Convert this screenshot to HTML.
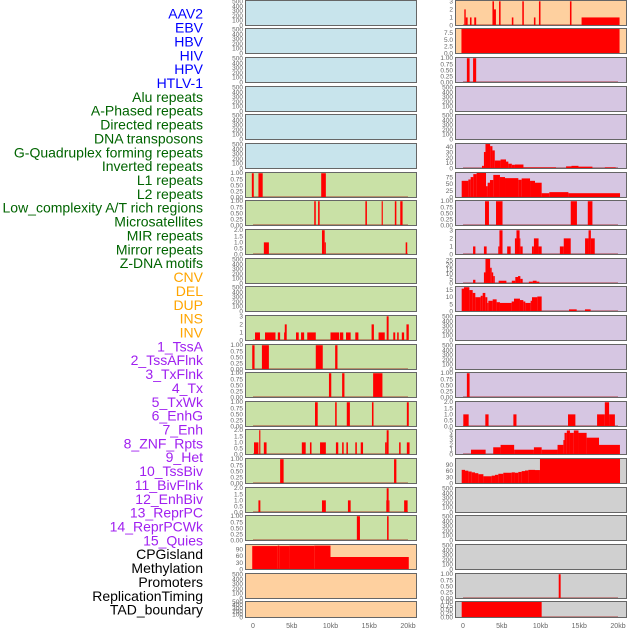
<!DOCTYPE html>
<html><head><meta charset="utf-8">
<style>
html,body{margin:0;padding:0;background:#fff;}
svg{display:block;font-family:"Liberation Sans",sans-serif;}
</style></head>
<body>
<svg id="chart" width="630" height="630" viewBox="0 0 630 630"></svg>
<script>
const labels = ["AAV2","EBV","HBV","HIV","HPV","HTLV-1","Alu repeats","A-Phased repeats","Directed repeats","DNA transposons","G-Quadruplex forming repeats","Inverted repeats","L1 repeats","L2 repeats","Low_complexity A/T rich regions","Microsatellites","MIR repeats","Mirror repeats","Z-DNA motifs","CNV","DEL","DUP","INS","INV","1_TssA","2_TssAFlnk","3_TxFlnk","4_Tx","5_TxWk","6_EnhG","7_Enh","8_ZNF_Rpts","9_Het","10_TssBiv","11_BivFlnk","12_EnhBiv","13_ReprPC","14_ReprPCWk","15_Quies","CPGisland","Methylation","Promoters","ReplicationTiming","TAD_boundary"];
const labelGroups = ["v","v","v","v","v","v","r","r","r","r","r","r","r","r","r","r","r","r","r","s","s","s","s","s","c","c","c","c","c","c","c","c","c","c","c","c","c","c","c","o","o","o","o","o"];
const xTickLabels = ["0","5kb","10kb","15kb","20kb"];
const xTickValues = [0,5,10,15,20];

const leftFill = ["b","b","b","b","b","b","g","g","g","g","g","g","g","g","g","g","g","g","g","p","p","p"];
const rightFill = ["p","p","u","u","u","u","u","u","u","u","u","u","u","u","u","u","k","k","k","k","k","k"];
const leftYMax = [520,520,520,520,520,520,1.03,1.03,2.06,520,520,3.1,1.03,1.03,1.03,2.06,1.03,2.06,1.03,112,520,520];
const rightYMax = [3.1,9.1,1.03,520,520,47,93,1.03,3.1,27,17.5,520,520,1.03,2.06,5.2,121,520,520,520,1.03,1.03];
const leftTicks = ["e","e","e","e","e","e","q","q","h","e","e","i3","q","q","q","h","q","h","q","t90","e","e"];
const rightTicks = ["i3","f75","q","e","e","t40","t75","q","i3","t25","t15","e","e","q","h","i5","t90","e","e","e","q","q"];

const leftBars = [
 [],[],[],[],[],[],
 [[-0.15,0.1,1],[0.7,1.25,1],[8.8,9.4,1]],
 [[7.9,8.1,1],[8.4,8.6,1],[14.5,14.7,1],[16.6,16.75,1],[18.3,18.5,1],[19.0,19.3,1]],
 [[1.4,2.05,1],[8.9,9.25,2],[9.25,9.4,1],[19.7,19.9,1]],
 [],[],
 [[0.26,0.9,1],[1.55,2.9,1],[3.2,3.5,1],[4.0,4.1,1],[4.1,4.35,2],[5.55,5.9,1],[6.2,6.6,1],[7.0,8.1,1],[10.0,11.1,1],[11.2,11.65,1],[12.0,12.6,1],[13.2,13.6,1],[15.3,15.6,2],[16.2,17.0,1],[17.25,17.5,3],[18.1,18.35,1],[18.6,18.8,1],[19.2,19.5,1],[19.8,20.1,2]],
 [[-0.1,0.2,1],[1.15,2.05,1],[8.1,9.0,1],[10.6,10.9,1]],
 [[9.8,10.1,1],[11.5,11.8,1],[15.5,16.7,1]],
 [[8.0,8.35,1],[10.6,10.8,1],[12.1,12.5,1],[15.35,15.55,1],[19.85,20.1,1]],
 [[0.13,0.7,1],[0.8,0.95,2],[1.4,1.75,1],[6.3,6.8,1],[7.35,7.55,1],[8.65,9.4,1],[10.7,11.0,1],[11.5,11.7,1],[12.05,12.25,1],[13.2,13.4,1],[13.9,14.2,1],[17.05,17.25,1],[17.25,17.5,2],[18.85,19.05,1],[19.85,20.2,1]],
 [[3.5,3.95,1],[18.2,18.5,1]],
 [[0.7,0.95,1],[8.9,9.4,1],[12.25,12.6,1],[17.2,17.25,1],[17.25,17.5,2],[17.5,17.6,1],[19.5,19.95,1]],
 [[13.4,13.8,1],[17.3,17.5,1]],
 [[-0.1,3.2,105],[3.2,3.4,107],[3.4,4.7,105],[4.7,7.9,106],[7.9,10.0,107],[10.0,20.1,56]],
 [],[]
];
const rightBars = [
 [[0.17,0.35,2],[0.35,0.6,1],[0.9,1.1,1],[1.45,1.7,1],[3.8,4.0,3],[4.0,4.25,2],[4.65,4.85,3],[6.3,6.5,1],[7.65,7.85,3],[9.15,9.35,1],[9.8,10.0,3],[13.8,14.0,3],[15.3,20.2,1]],
 [[-0.2,20.2,9.1]],
 [[0.5,0.85,1],[1.3,1.7,1]],
 [],[],
 [[2.45,2.7,5],[2.7,2.9,31],[2.9,3.5,46],[3.5,3.8,42],[3.8,4.1,34],[4.1,4.85,15],[4.85,5.55,17],[5.55,5.85,13],[5.85,6.3,9],[6.3,6.7,7],[6.7,7.8,7.5],[7.8,12.0,2],[13.3,14.0,4],[14.0,14.9,5],[14.9,16.7,3.5],[18.3,19.7,2]],
 [[-0.17,0.69,62],[0.69,0.99,67],[0.99,1.33,76],[1.33,1.76,87],[1.76,2.97,93],[2.97,3.18,42],[3.18,3.48,55],[3.48,3.91,65],[3.91,4.77,84],[4.77,5.42,76],[5.42,7.14,72],[7.14,7.57,66],[7.57,8.65,71],[8.65,9.29,62],[9.29,10.15,55],[10.15,11.14,16],[11.14,13.6,20],[13.6,20.26,16]],
 [[2.84,3.35,1],[4.26,5.1,1],[13.9,14.7,1],[16.1,16.7,1]],
 [[1.3,1.6,1],[2.7,3.05,1],[4.55,4.7,1],[4.7,5.1,3],[5.7,6.15,1],[6.7,6.9,2],[6.9,7.3,3],[7.3,7.4,2],[7.4,7.7,1],[8.9,9.15,1],[9.15,9.75,2],[9.75,10.15,1],[12.5,13.0,1],[13.0,13.9,2],[15.75,16.2,2],[16.2,16.5,3],[16.5,17.0,2]],
 [[1.3,1.6,4],[2.7,2.9,12],[2.9,3.5,27],[3.5,3.7,17],[3.7,3.9,12],[3.9,4.1,8],[4.6,5.6,3],[6.3,6.75,3],[6.75,7.1,7],[7.1,7.4,8],[7.4,7.7,5],[8.5,9.0,2],[9.0,9.5,3],[9.5,9.85,2]],
 [[-0.17,0.13,16],[0.13,0.82,17],[0.82,1.25,15],[1.25,1.59,13],[1.59,2.28,10],[2.28,2.54,11],[2.54,2.88,13],[2.88,3.14,10],[3.14,3.27,6],[3.27,3.83,7.5],[3.83,4.34,8.5],[4.34,4.77,6.5],[4.77,6.28,6],[6.28,6.58,7],[6.58,7.35,9],[7.35,7.78,8],[7.78,8.04,7],[8.04,8.73,6],[8.73,8.9,7.5],[8.9,9.59,10],[9.59,10.15,10.5],[13.68,14.67,1.5],[15.74,16.47,1.5]],
 [],[],
 [[0.5,0.85,1]],
 [[0.04,0.73,1],[2.88,3.3,1],[6.5,6.9,1],[13.55,14.5,1],[17.3,18.3,1],[18.3,18.85,2],[18.85,19.6,1]],
 [[1.03,2.92,1],[3.9,4.85,1.5],[4.85,6.6,2],[6.6,9.15,1],[9.15,10.15,1.5],[10.15,12.2,1],[12.2,12.95,2],[12.95,13.1,3],[13.1,13.4,4.5],[13.4,13.8,5],[13.8,14.3,4.5],[14.3,14.9,5],[14.9,15.95,4.5],[15.95,17.55,3.5],[17.55,20.25,2]],
 [[-0.17,0.26,66],[0.26,0.69,62],[0.69,1.12,58],[1.12,1.55,54],[1.55,1.98,50],[1.98,2.63,45],[2.63,3.7,35],[3.7,4.13,38],[4.13,4.56,42],[4.56,5.2,47],[5.2,6.28,52],[6.28,6.7,54],[6.7,7.14,52],[7.14,7.57,56],[7.57,8.0,60],[8.0,8.43,63],[8.43,9.29,66],[9.29,9.93,65],[9.93,20.26,121]],
 [],[],[],
 [[12.35,12.6,1]],
 [[-0.17,10.15,1]]
];

const rowTops = [0,28,57,86,114,143,172,200,229,258,286,315,344,372,401,429,458,487,515,544,573,601];
const fills = {b:"#c8e4ec",g:"#c9e1a6",p:"#fed09f",u:"#d6c6e2",k:"#d0d0d0"};
const groupColors = {v:"#0000ff",r:"#006400",s:"#ffa500",c:"#a020f0",o:"#000000"};
const tickSets = {
 e:[[0,"0"],[100,"100"],[200,"200"],[300,"300"],[400,"400"],[500,"500"]],
 q:[[0,"0.00"],[0.25,"0.25"],[0.5,"0.50"],[0.75,"0.75"],[1,"1.00"]],
 h:[[0,"0.0"],[0.5,"0.5"],[1,"1.0"],[1.5,"1.5"],[2,"2.0"]],
 i3:[[0,"0"],[1,"1"],[2,"2"],[3,"3"]],
 i5:[[0,"0"],[1,"1"],[2,"2"],[3,"3"],[4,"4"],[5,"5"]],
 f75:[[0,"0.0"],[2.5,"2.5"],[5,"5.0"],[7.5,"7.5"]],
 t40:[[0,"0"],[10,"10"],[20,"20"],[30,"30"],[40,"40"]],
 t75:[[0,"0"],[25,"25"],[50,"50"],[75,"75"]],
 t90:[[0,"0"],[30,"30"],[60,"60"],[90,"90"]],
 t25:[[0,"0"],[5,"5"],[10,"10"],[15,"15"],[20,"20"],[25,"25"]],
 t15:[[0,"0"],[5,"5"],[10,"10"],[15,"15"]]
};
const NS = "http://www.w3.org/2000/svg";
const svg = document.getElementById("chart");
function mk(tag, attrs, parent){const e=document.createElementNS(NS,tag);for(const k in attrs)e.setAttribute(k,attrs[k]);(parent||svg).appendChild(e);return e;}

// labels
labels.forEach((t,i)=>{
  const e = mk("text",{x:203,y:15+i*13.86,"text-anchor":"end","dominant-baseline":"middle","font-size":"14",fill:groupColors[labelGroups[i]]});
  e.textContent=t;
  
  
});

function drawColumn(px0, fillKeys, ymaxes, ticks, bars, side){
  const pw = 171;
  const xScale = kb => px0 + 8 + kb*7.75;
  rowTops.forEach((top,i)=>{
    const h = (i===rowTops.length-1)?16:25;
    const g = mk("g",{});
    
    
    mk("rect",{x:px0+0.5,y:top+0.5,width:pw,height:h,fill:fills[fillKeys[i]],stroke:"none"},g);
    const ymax = ymaxes[i];
    const yScale = v => top+0.5+h - v/ymax*h;
    const data = bars[i];
    if(data.length){
      mk("rect",{x:xScale(0),y:top+h-1,width:xScale(20)-xScale(0),height:1.5,fill:"rgba(150,0,0,0.35)"},g);
    }
    data.forEach(b=>{
      const r = mk("rect",{x:xScale(b[0]),y:yScale(b[2]),width:Math.max(0.8,xScale(b[1])-xScale(b[0])),height:top+0.5+h-yScale(b[2]),fill:"#ff0000"},g);
      
      
    });
    mk("rect",{x:px0+0.5,y:top+0.5,width:pw,height:h,fill:"none",stroke:"#666",  "stroke-width":1},g);
    tickSets[ticks[i]].forEach(tk=>{
      const y = yScale(tk[0]);
      const e = mk("text",{x:px0-2,y:y+2,"text-anchor":"end","font-size":"6.5",fill:"#666"},g);
      e.textContent = tk[1];
      
      
    });
  });
  xTickValues.forEach((v,i)=>{
    const e = mk("text",{x:xScale(v),y:628,"text-anchor":"middle","font-size":"7",fill:"#666"});
    e.textContent = xTickLabels[i];
    
    
  });
}
drawColumn(245, leftFill, leftYMax, leftTicks, leftBars, "left");
drawColumn(455, rightFill, rightYMax, rightTicks, rightBars, "right");
</script>
</body></html>
